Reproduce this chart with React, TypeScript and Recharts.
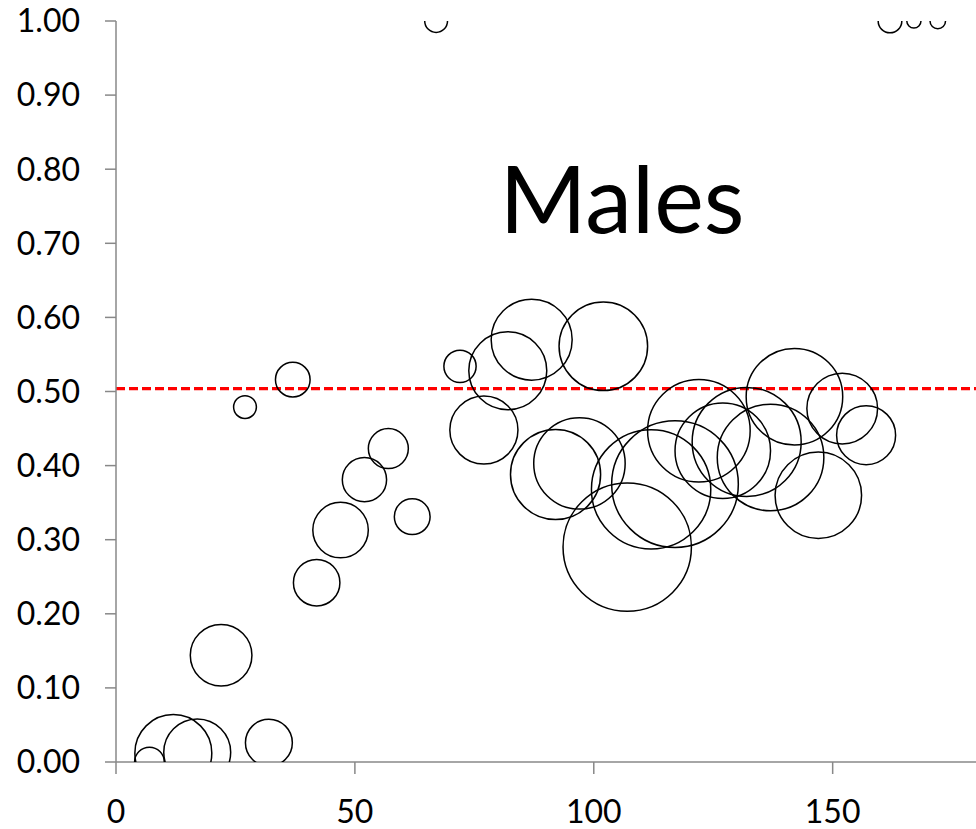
import React from 'react';
import { ScatterChart, Scatter, XAxis, YAxis, ZAxis, ReferenceLine } from 'recharts';

// bubble centres (x), proportion (y) and bubble weight (z)
const xValues = [7, 12, 17, 22, 27, 32, 37, 42, 47, 52, 57, 62, 67, 72, 77, 82, 87, 92, 97, 102, 107, 112, 117, 122, 127, 132, 137, 142, 147, 152, 157, 162, 167, 172];
const yValues = [0.0, 0.012, 0.013, 0.144, 0.479, 0.026, 0.516, 0.242, 0.313, 0.381, 0.423, 0.331, 1.0, 0.534, 0.448, 0.528, 0.57, 0.388, 0.403, 0.561, 0.29, 0.368, 0.375, 0.447, 0.42, 0.432, 0.411, 0.493, 0.36, 0.477, 0.441, 1.0, 1.0, 1.0];
const zValues = [22, 148, 112, 95, 13, 55, 30, 54, 77, 49, 40, 32, 13, 26, 116, 152, 164, 203, 209, 196, 412, 356, 401, 263, 228, 297, 284, 233, 187, 125, 87, 14, 5, 6];

const xTicks = [0, 50, 100, 150];
const yTicks = [0, 0.1, 0.2, 0.3, 0.4, 0.5, 0.6, 0.7, 0.8, 0.9, 1.0];
const meanLine = 0.504;
const title = 'Males';

const points = xValues.map((x, i) => ({ x, y: yValues[i], z: zValues[i] }));

const font = 'Lato, "Open Sans", sans-serif';
const axisGrey = '#888888';

export default function App() {
  return (
    <div style={{ position: 'absolute', left: 0, top: 0, width: 976, height: 829, background: '#fff' }}>
      <ScatterChart width={976} height={829} margin={{ top: 21, right: 0, bottom: 7, left: 0 }}>
        <XAxis
          type="number"
          dataKey="x"
          domain={[0, 180]}
          ticks={xTicks}
          allowDataOverflow
          height={60}
          tickSize={12}
          tickMargin={26}
          axisLine={{ stroke: axisGrey, strokeWidth: 1.5 }}
          tickLine={{ stroke: axisGrey, strokeWidth: 1.5 }}
          tick={{ fill: '#000', fontSize: 32, fontFamily: font }}
        />
        <YAxis
          type="number"
          dataKey="y"
          domain={[0, 1]}
          ticks={yTicks}
          allowDataOverflow
          width={116}
          tickSize={11}
          tickMargin={25}
          tickFormatter={(v: number) => v.toFixed(2)}
          axisLine={{ stroke: axisGrey, strokeWidth: 1.5 }}
          tickLine={{ stroke: axisGrey, strokeWidth: 1.5 }}
          tick={{ fill: '#000', fontSize: 32, fontFamily: font }}
        />
        <ZAxis type="number" dataKey="z" domain={[0, 1000]} range={[0, 10000 * Math.PI]} />
        <ReferenceLine y={meanLine} stroke="#ff0000" strokeWidth={3.2} strokeDasharray="9 4" />
        <Scatter data={points} fill="none" stroke="#000" strokeWidth={1.5} isAnimationActive={false} />
      </ScatterChart>
      <svg width={976} height={829} style={{ position: 'absolute', left: 0, top: 0, pointerEvents: 'none' }}>
        <text x={622} y={233} textAnchor="middle" fontSize={94} fontFamily={font} fill="#000">
          {title}
        </text>
      </svg>
    </div>
  );
}
